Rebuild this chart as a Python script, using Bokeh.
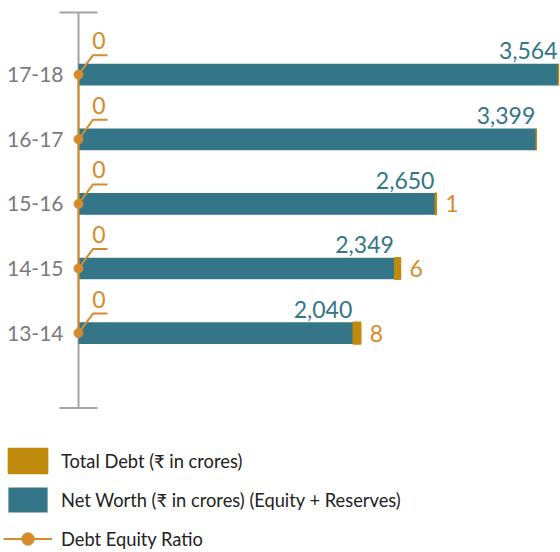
from bokeh.plotting import figure
from bokeh.models import Range1d, ColumnDataSource, Legend, LegendItem
from bokeh.core.properties import value
from bokeh.embed import file_html
from bokeh.resources import INLINE

# ---- data ----
categories = ["13-14", "14-15", "15-16", "16-17", "17-18"]
net_worth = [2040, 2349, 2650, 3399, 3564]
total_debt = [8, 6, 1, 0, 0]
debt_equity_ratio = [0, 0, 0, 0, 0]

# ---- style ----
TEAL = "#347587"
GOLD = "#c08b0c"
ORANGE = "#d48c2c"
GRAY_AXIS = "#a3a3a3"
GRAY_TEXT = "#7a7a7a"
FONT = value("Lato")

W, H = 560, 552
X0, X1 = -579.15, 3578.85
Y0, Y1 = -3.3963, 5.1486
UX = (X1 - X0) / W   # data units per pixel (x)
UY = (Y1 - Y0) / H   # data units per pixel (y)
BAR_H = 0.336
DEBT_PX = 0.94       # display exaggeration: px per crore of debt
AX_TOP = len(categories) - 1 + 0.963
AX_BOT = -1.161

ypos = list(range(len(categories)))
src = ColumnDataSource(dict(
    y=ypos,
    cat=categories,
    nw=net_worth,
    debt=total_debt,
    ratio=debt_equity_ratio,
    debt_right=[n + d * DEBT_PX * UX for n, d in zip(net_worth, total_debt)],
    bar_top=[y + BAR_H / 2 for y in ypos],
    nw_label=[f"{v:,}" for v in net_worth],
    debt_label=[str(d) if d else "" for d in total_debt],
    ratio_label=[f"{r:g}" for r in debt_equity_ratio],
))

p = figure(width=W, height=H, x_range=Range1d(X0, X1), y_range=Range1d(Y0, Y1),
           output_backend="svg", toolbar_location=None, min_border=0,
           outline_line_color=None, x_axis_location=None, y_axis_location=None)
p.grid.grid_line_color = None
p.background_fill_color = "white"

# axis line with caps
p.segment(x0=0, y0=AX_BOT, x1=0, y1=AX_TOP, line_color=GRAY_AXIS, line_width=2)
p.scatter(x=[0, 0], y=[AX_BOT, AX_TOP], marker="dash", size=38,
          line_color=GRAY_AXIS, line_width=2)

nw_r = p.hbar(y="y", left=0, right="nw", height=BAR_H, fill_color=TEAL,
              line_color=None, source=src)
debt_r = p.hbar(y="y", left="nw", right="debt_right", height=BAR_H,
                fill_color=GOLD, line_color=GOLD, line_width=1.5, source=src)

# debt equity ratio line + leaders
line_r = p.line(x="ratio", y="y", line_color=ORANGE, line_width=2, source=src)
dot_r = p.scatter(x="ratio", y="y", size=9, fill_color=ORANGE, line_color=ORANGE, source=src)
lx = [[r, r + 14.5 * UX, r + 29 * UX] for r in debt_equity_ratio]
ly = [[y, y + 19.5 * UY, y + 19.5 * UY] for y in ypos]
p.multi_line(xs=lx, ys=ly, line_color=ORANGE, line_width=2)

# labels
p.text(x="nw", y="bar_top", text="nw_label", x_offset=-1, y_offset=-13,
       text_align="right", text_baseline="middle", text_font=FONT,
       text_font_size="23px", text_color=TEAL, source=src)
p.text(x="debt_right", y="y", text="debt_label", x_offset=9,
       text_align="left", text_baseline="middle", text_font=FONT,
       text_font_size="23px", text_color=ORANGE, source=src)
p.text(x="ratio", y="y", text="ratio_label", x_offset=20.5, y_offset=-34,
       text_align="center", text_baseline="middle", text_font=FONT,
       text_font_size="23px", text_color=ORANGE, source=src)
p.text(x=0, y="y", text="cat", x_offset=-15, text_align="right",
       text_baseline="middle", text_font=FONT, text_font_size="21px",
       text_color=GRAY_TEXT, source=src)

legend = Legend(items=[
    LegendItem(label="Total Debt (₹ in crores)", renderers=[debt_r]),
    LegendItem(label="Net Worth (₹ in crores) (Equity + Reserves)", renderers=[nw_r]),
    LegendItem(label="Debt Equity Ratio", renderers=[line_r, dot_r]),
], location=(3, -2), orientation="vertical", glyph_width=49, glyph_height=31,
    spacing=8, padding=0, margin=0, label_standoff=9, border_line_color=None,
    background_fill_alpha=0, label_text_font="Lato", label_text_font_size="18.3px",
    label_text_color="#222222")
p.add_layout(legend)

html = file_html(p, INLINE, title="Debt Equity")
open("out.html", "w").write(html)
